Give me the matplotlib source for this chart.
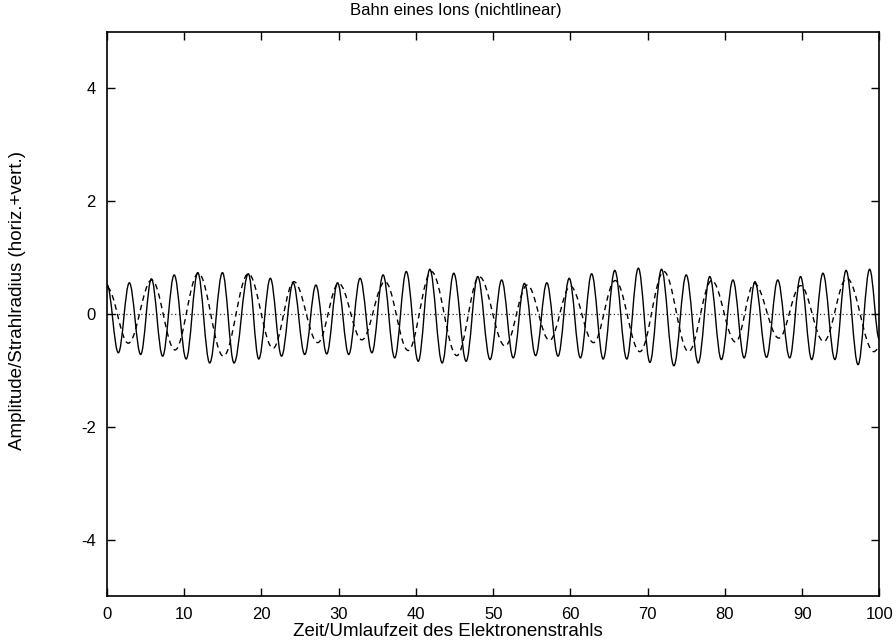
"""
Bahn eines Ions (nichtlinear) - gnuplot-artiger Nachbau
"""

import matplotlib
matplotlib.use('Agg')
import matplotlib.pyplot as plt
from matplotlib.path import Path
from matplotlib.patches import PathPatch

plt.rcParams['font.family'] = ['Liberation Sans', 'DejaVu Sans']
plt.rcParams['axes.unicode_minus'] = False

# Extrema (time, amplitude) - horizontal
horiz_t = [0, 1.47, 2.89, 4.36, 5.75, 7.2, 8.7, 10.25, 11.75, 13.3, 14.95, 16.45,
           18.3, 19.65, 21.15, 22.6, 24.1, 25.6, 27.05, 28.45, 29.85, 31.3, 32.77,
           34.3, 35.75, 37.25, 38.75, 40.3, 41.8, 43.4, 44.9, 46.5, 48.0, 49.6,
           51.1, 52.6, 54.05, 55.5, 56.95, 58.4, 59.85, 61.3, 62.75, 64.25, 65.75,
           67.3, 68.8, 70.3, 71.8, 73.4, 75.0, 76.55, 78.05, 79.55, 81.05, 82.5,
           83.9, 85.4, 86.85, 88.4, 89.8, 91.25, 92.7, 94.25, 95.7, 97.25, 98.75, 100]
horiz_y = [0.52, -0.69, 0.55, -0.72, 0.62, -0.75, 0.69, -0.80, 0.73, -0.87, 0.73, -0.87,
           0.71, -0.80, 0.63, -0.75, 0.55, -0.72, 0.51, -0.71, 0.55, -0.72, 0.63,
           -0.69, 0.69, -0.78, 0.75, -0.84, 0.79, -0.87, 0.72, -0.84, 0.66, -0.81,
           0.60, -0.78, 0.54, -0.74, 0.55, -0.75, 0.63, -0.78, 0.71, -0.80, 0.77,
           -0.80, 0.81, -0.86, 0.79, -0.92, 0.69, -0.87, 0.66, -0.81, 0.60, -0.78,
           0.57, -0.77, 0.60, -0.78, 0.66, -0.81, 0.72, -0.81, 0.77, -0.90, 0.79, -0.45]

# vertical
vert_t = [0, 2.76, 5.79, 8.81, 11.83, 15.07, 18.3, 21.5, 24.2, 27.3, 30.0, 33.0,
          36.0, 39.0, 42.0, 45.3, 48.2, 51.55, 54.4, 57.3, 60.0, 63.0, 65.8, 69.0,
          72.1, 75.3, 78.3, 81.4, 83.8, 87.0, 89.8, 92.8, 95.8, 99.3, 100]
vert_y = [0.47, -0.52, 0.60, -0.64, 0.72, -0.75, 0.71, -0.61, 0.57, -0.51, 0.54, -0.46,
          0.57, -0.65, 0.75, -0.74, 0.66, -0.57, 0.51, -0.47, 0.49, -0.51, 0.59, -0.67,
          0.75, -0.67, 0.59, -0.50, 0.54, -0.43, 0.50, -0.49, 0.63, -0.67, -0.60]

x_ticks = [0, 10, 20, 30, 40, 50, 60, 70, 80, 90, 100]
y_ticks = [-4, -2, 0, 2, 4]


def smooth_path(ts, ys, k=0.3642):
    # cubic bezier between extrema with flat tangents at each extremum
    verts = [(ts[0], ys[0])]
    codes = [Path.MOVETO]
    for t0, y0, t1, y1 in zip(ts[:-1], ys[:-1], ts[1:], ys[1:]):
        dt = t1 - t0
        verts += [(t0 + k * dt, y0), (t1 - k * dt, y1), (t1, y1)]
        codes += [Path.CURVE4] * 3
    return Path(verts, codes)


fig = plt.figure(figsize=(8.96, 6.41), dpi=100)
ax = fig.add_axes([107 / 896, 45 / 641, 772.3 / 896, 564.3 / 641])

ax.axhline(0, color='#333333', lw=0.9, ls=(0, (1, 2)), zorder=1)
ax.add_patch(PathPatch(smooth_path(horiz_t, horiz_y), fill=False,
                       edgecolor='black', lw=1.0, zorder=3))
ax.add_patch(PathPatch(smooth_path(vert_t, vert_y), fill=False,
                       edgecolor='black', lw=1.0, ls=(0, (4, 3)), zorder=2))

ax.set_xlim(0, 100)
ax.set_ylim(-5, 5)
ax.set_xticks(x_ticks)
ax.set_yticks(y_ticks)
ax.tick_params(direction='in', length=6, width=1, top=True, right=True,
               labelsize=12, pad=8)
for spine in ax.spines.values():
    spine.set_linewidth(1.2)

fig.text(456 / 896, 1 - 10 / 641, 'Bahn eines Ions (nichtlinear)', ha='center', va='center', fontsize=12)
fig.text(0.5, 1 - 632 / 641, 'Zeit/Umlaufzeit des Elektronenstrahls', ha='center', va='center', fontsize=13.5)
fig.text(18 / 896, 1 - 300 / 641, 'Amplitude/Strahlradius (horiz.+vert.)', ha='center', va='center',
         rotation=90, fontsize=13.5)

plt.savefig('out.png', dpi=100)
plt.close(fig)
